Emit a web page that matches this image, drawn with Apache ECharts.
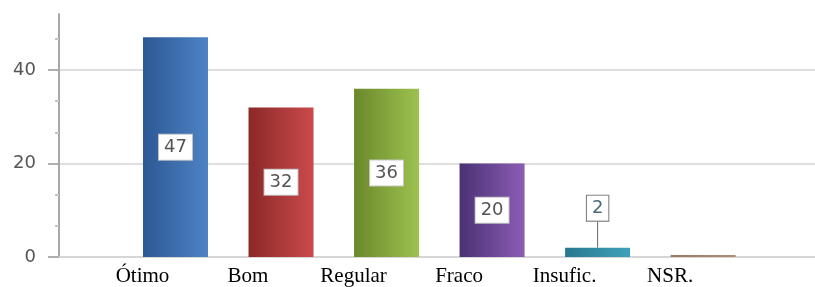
<!DOCTYPE html>
<html><head><meta charset="utf-8">
<script src="https://cdn.jsdelivr.net/npm/echarts@6/dist/echarts.min.js"></script>
<style>html,body{margin:0;padding:0;background:#fff}#c{width:815px;height:287px}</style>
</head><body><div id="c"></div>
<script>
const categories = ['Ótimo', 'Bom', 'Regular', 'Fraco', 'Insufic.', 'NSR.'];
const values = [47, 32, 36, 20, 2, 0];
const yTicks = [0, 20, 40];
const yMinorTicks = [1, 2, 4, 5, 7].map(k => k * 20 / 3);
const barColors = [
  ['#2c5894', '#4d83c4'],
  ['#8a2828', '#cb4a4b'],
  ['#6a882b', '#9dc24f'],
  ['#4a3175', '#8b5db5'],
  ['#27788e', '#3fa1b9'],
  ['#9a7a5a', '#b09070']
];

const chart = echarts.init(document.getElementById('c'));
const data = values.map((v, i) => {
  const item = {
    value: [i, v],
    itemStyle: {
      color: new echarts.graphic.LinearGradient(0, 0, 1, 0, [
        { offset: 0, color: barColors[i][0] },
        { offset: 1, color: barColors[i][1] }
      ])
    }
  };
  if (v === 0) item.label = { show: false };
  else if (v < 5) {
    item.label = { position: 'top', distance: 0, borderColor: '#777', color: '#4a6a78' };
    item.labelLine = { show: true, lineStyle: { color: '#666', width: 1 } };
  }
  return item;
});

chart.setOption({
  animation: false,
  grid: { left: 59, right: 0, top: 14, bottom: 28, containLabel: false },
  xAxis: {
    type: 'value',
    min: -1.104,
    max: 6.06,
    splitLine: { show: false },
    axisTick: { show: false },
    axisLine: { show: true, onZero: false, lineStyle: { color: '#d6d6d6', width: 2 } },
    axisLabel: {
      customValues: categories.map((c, i) => i),
      formatter: v => categories[Math.round(v)] || '',
      fontFamily: 'Liberation Serif',
      fontSize: 21,
      color: '#000',
      margin: 9,
      padding: [0, 66, 0, 0]
    }
  },
  yAxis: [{
    type: 'value',
    min: 0,
    max: 52,
    interval: 20,
    axisLine: { show: true, onZero: false, lineStyle: { color: '#a8a8a8', width: 2 } },
    axisTick: { show: true, customValues: yTicks, length: 11, lineStyle: { color: '#b0b0b0', width: 2 } },
    splitLine: { show: true, lineStyle: { color: '#dedede', width: 2 } },
    axisLabel: {
      customValues: yTicks,
      formatter: v => String(v),
      fontFamily: 'DejaVu Sans',
      fontSize: 18,
      color: '#555',
      margin: 23
    }
  }, {
    type: 'value',
    position: 'left',
    min: 0,
    max: 52,
    axisLine: { show: false, onZero: false },
    splitLine: { show: false },
    axisLabel: { show: false },
    axisTick: { show: true, customValues: yMinorTicks, length: 4, lineStyle: { color: '#c4c4c4', width: 2 } }
  }],
  series: [{
    type: 'bar',
    barWidth: 65,
    barMinHeight: 2,
    data: data,
    labelLayout: p => p.dataIndex === 4 ? { dy: -27 } : {},
    label: {
      show: true,
      position: 'inside',
      formatter: p => String(p.value[1]),
      fontFamily: 'DejaVu Sans',
      fontSize: 18,
      color: '#555',
      backgroundColor: '#fff',
      borderColor: '#c4c4c4',
      borderWidth: 1,
      padding: [4, 5, 3, 5]
    }
  }]
});
</script>
</body></html>
